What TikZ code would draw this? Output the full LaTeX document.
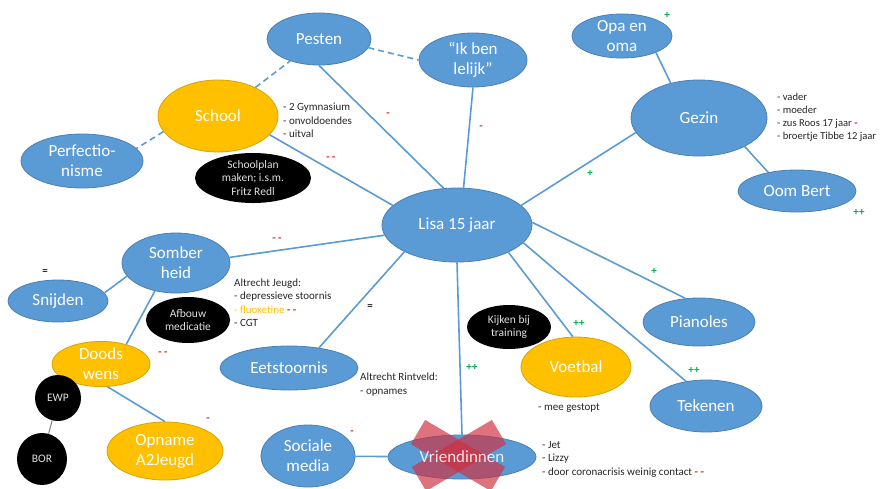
\documentclass[tikz,border=0pt]{standalone}
\usepackage{fontspec}
\setmainfont{Carlito}
\usetikzlibrary{shapes.geometric}
\definecolor{nblue}{HTML}{5B9BD5}
\definecolor{nblueb}{HTML}{4A7FB5}
\definecolor{norange}{HTML}{FFC000}
\definecolor{norangeb}{HTML}{D9A300}
\definecolor{xred}{HTML}{D03040}
\definecolor{mred}{HTML}{E02020}
\definecolor{mgreen}{HTML}{00B050}
\definecolor{txt}{HTML}{262626}
\begin{document}
\begin{tikzpicture}[x=1pt,y=-1pt,
  bub/.style={ellipse, inner sep=0pt, align=center, text=white, font=\fontsize{17}{20}\selectfont},
  bluebub/.style={bub, fill=nblue, draw=nblueb, line width=0.8pt},
  orbub/.style={bub, fill=norange, draw=norangeb, line width=0.8pt},
  blackbub/.style={ellipse, inner sep=0pt, align=center, fill=black, text=white!88!black, font=\fontsize{11.5}{13.5}\selectfont},
  sz/.style 2 args={minimum width=#1pt, minimum height=#2pt},
  conn/.style={draw=nblue, line width=1.6pt},
  dconn/.style={conn, dash pattern=on 6pt off 4pt},
  note/.style={anchor=west, inner sep=0pt, align=left, text=txt, font=\fontsize{11}{13.5}\selectfont},
  negsign/.style={text=mred, inner sep=0pt, font=\fontsize{11}{13}\selectfont\bfseries},
  plussign/.style={text=mgreen, inner sep=0pt, font=\fontsize{11}{13}\selectfont\bfseries},
  eqsign/.style={text=txt, inner sep=0pt, font=\fontsize{11}{13}\selectfont\bfseries},
  xband/.style={draw=xred, opacity=0.68, line width=28pt},
]
\useasboundingbox (0,0) rectangle (885,488);

% nodes
\node[bluebub, sz={104}{52}] (pesten) at (319,39) {Pesten};
\node[bluebub, sz={108}{54}] (lelijk) at (473,60) {“Ik ben\\lelijk”};
\node[bluebub, sz={100}{42}] (opa) at (622,36) {Opa en\\oma};
\node[bluebub, sz={136}{76}] (gezin) at (699,118) {Gezin};
\node[bluebub, sz={118}{42}] (oom) at (797,191) {Oom Bert};
\node[orbub, sz={120}{72}] (school) at (218,116) {School};
\node[bluebub, sz={122}{54}] (perf) at (82,161) {Perfectio-\\nisme};
\node[blackbub, sz={116}{50}] (schoolplan) at (253,178) {Schoolplan\\maken; i.s.m.\\Fritz Redl};
\node[bluebub, sz={150}{74}] (lisa) at (457,225) {Lisa 15 jaar};
\node[bluebub, sz={108}{60}] (somber) at (176,263) {Somber\\heid};
\node[bluebub, sz={100}{42}] (snijden) at (58,301) {Snijden};
\node[blackbub, sz={84}{46}] (afbouw) at (188,320) {Afbouw\\medicatie};
\node[orbub, sz={98}{42}] (doods) at (101,364) {Doods\\wens};
\node[blackbub, sz={46}{46}] (ewp) at (58,398) {EWP};
\node[blackbub, sz={50}{52}] (bor) at (42,459) {BOR};
\node[orbub, sz={116}{58}] (opname) at (165,451) {Opname\\A2Jeugd};
\node[bluebub, sz={138}{44}] (eet) at (289,368) {Eetstoornis};
\node[bluebub, sz={94}{62}] (sociale) at (308,456) {Sociale\\media};
\node[bluebub, sz={148}{44}] (vriend) at (462,457) {};
\node[blackbub, sz={84}{44}] (kijken) at (509,327) {Kijken bij\\training};
\node[orbub, sz={110}{60}] (voetbal) at (576,367) {Voetbal};
\node[bluebub, sz={112}{48}] (pianoles) at (699,322) {Pianoles};
\node[bluebub, sz={112}{52}] (tekenen) at (706,406) {Tekenen};

% connectors
\draw[conn] (pesten.south) -- (lisa.110);
\draw[conn] (lelijk.south) -- (lisa.80);
\draw[conn] (gezin.193) -- (lisa.17);
\draw[conn] (school.340) -- (lisa.163);
\draw[conn] (somber.6) -- (lisa.188);
\draw[conn] (eet.34) -- (lisa.207);
\draw[conn] (lisa.south) -- (vriend.north);
\draw[conn] (lisa.332) -- (voetbal.96);
\draw[conn] (lisa.345) -- (tekenen.129);
\draw[conn] (lisa.2) -- (pianoles.120);
\draw[conn] (opa.334) -- (gezin.129);
\draw[conn] (gezin.328) -- (oom.147);
\draw[dconn] (school) -- (pesten);
\draw[dconn] (school.196) -- (perf.13);
\draw[dconn] (pesten.350) -- (lelijk.180);
\draw[conn] (somber.195) -- (snijden.10);
\draw[conn] (somber.233) -- (doods.38);
\draw[conn] (doods.286) -- (opname.90);
\draw[gray, line width=1pt] (ewp) -- (bor);
\draw[conn] (sociale) -- (vriend);

% red cross over Vriendinnen
\draw[xband] (418,432) -- (498,479);
\draw[xband] (499,432) -- (419,479);
\node[bub, text opacity=0.85] (vriendtxt) at (vriend.center) {Vriendinnen};

% notes
\node[note] (n1) at (283,120.5) {- 2 Gymnasium\\- onvoldoendes\\- uitval};
\node[note, font=\fontsize{10.6}{13}\selectfont] (n2) at (777,117.5) {- vader\\- moeder\\- zus Roos 17 jaar {\color{mred}\bfseries -}\\- broertje Tibbe 12 jaar};
\node[note] (n3) at (234,302.5) {Altrecht Jeugd:\\- depressieve stoornis\\{\color{norange}- fluoxetine} {\color{mred}\bfseries - -}\\- CGT};
\node[note] (n4) at (360,384.5) {Altrecht Rintveld:\\- opnames};
\node[note] (n5) at (538,408) {- mee gestopt};
\node[note] (n6) at (542,459) {- Jet\\- Lizzy\\- door coronacrisis weinig contact {\color{mred}\bfseries - -}};

% signs
\node[negsign] (s1) at (388,115) {-};
\node[negsign] (s2) at (481,128) {-};
\node[negsign] (s3) at (331,159) {- -};
\node[negsign] (s4) at (277,240) {- -};
\node[negsign] (s5) at (163,354) {- -};
\node[negsign] (s6) at (208,420) {-};
\node[negsign] (s7) at (352,433) {-};
\node[plussign] (p1) at (590,173) {+};
\node[plussign] (p2) at (667,15) {+};
\node[plussign] (p3) at (859,212) {++};
\node[plussign] (p4) at (654,271) {+};
\node[plussign] (p5) at (579,323) {++};
\node[plussign] (p6) at (694,370) {++};
\node[plussign] (p7) at (472,367) {++};
\node[eqsign] (e1) at (45,272) {=};
\node[eqsign] (e2) at (370,307) {=};
\end{tikzpicture}
\end{document}
